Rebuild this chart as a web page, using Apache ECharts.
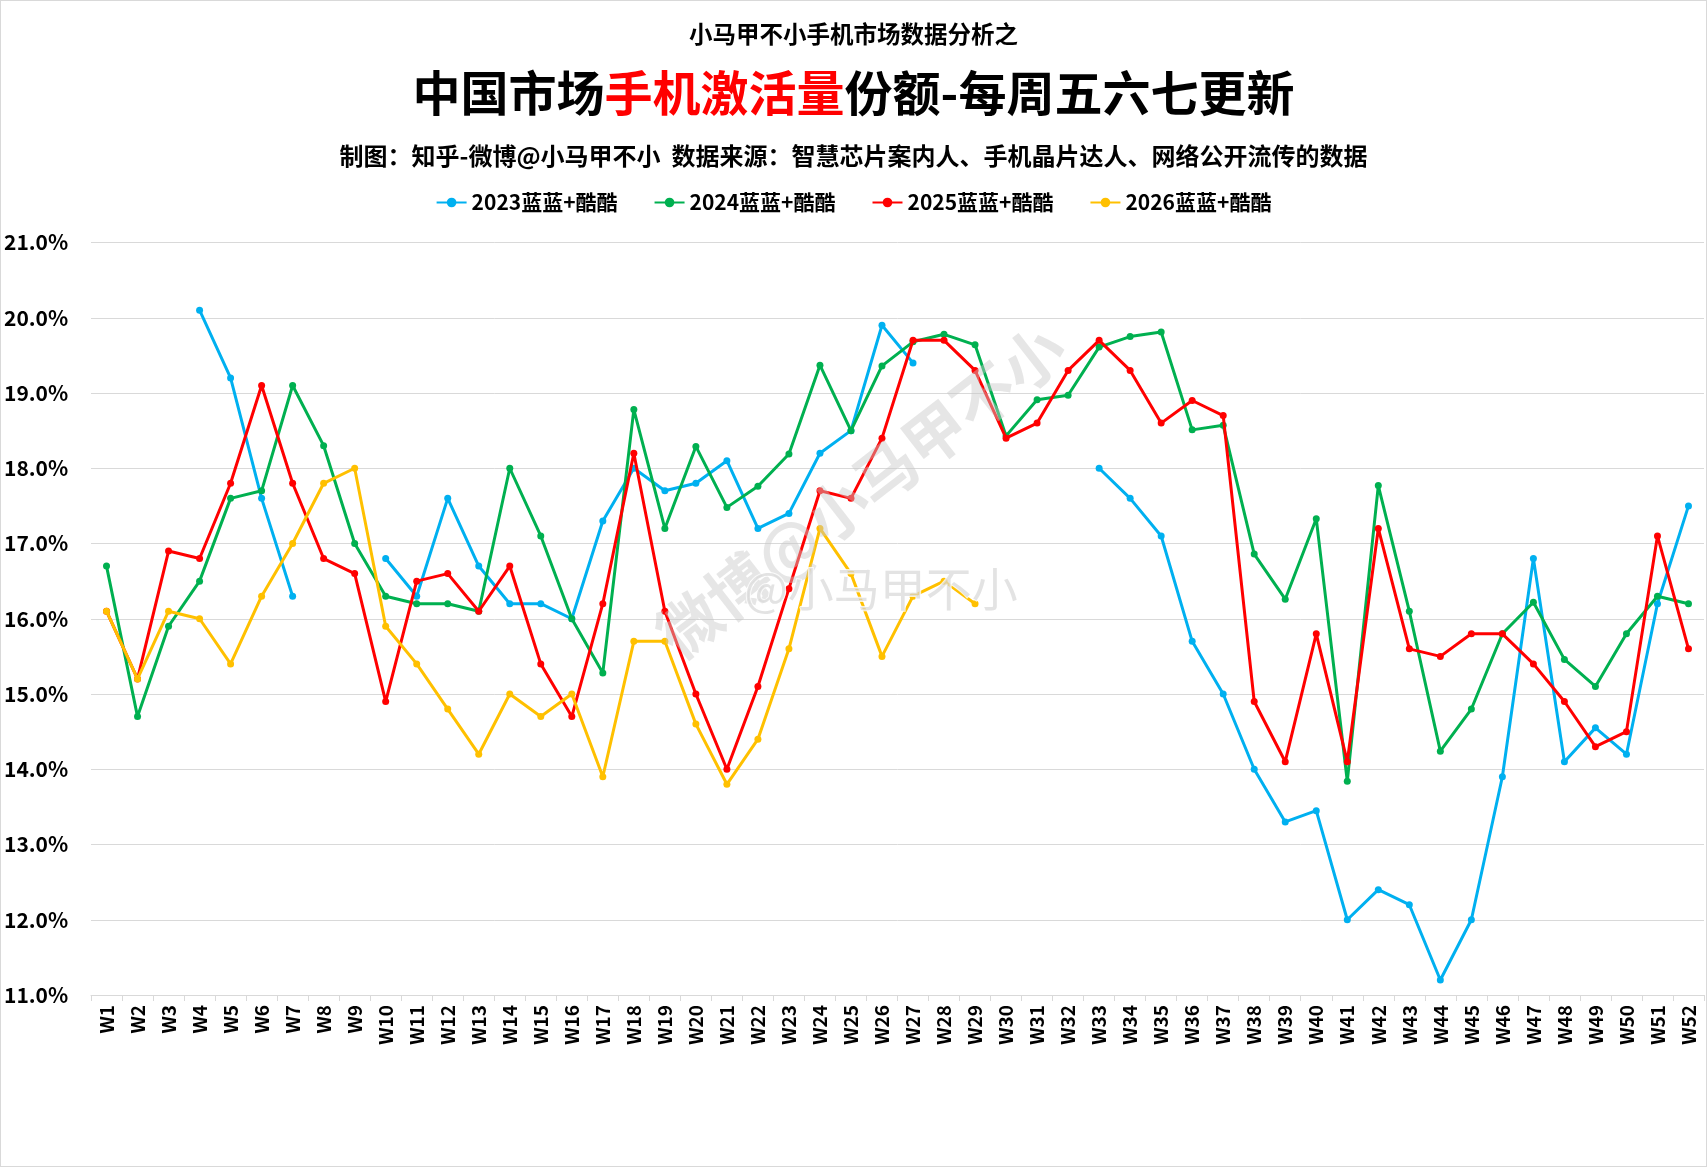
<!DOCTYPE html>
<html>
<head>
<meta charset="utf-8">
<title>中国市场手机激活量份额</title>
<script src="https://cdn.jsdelivr.net/npm/echarts@6/dist/echarts.min.js"></script>
<style>
html, body { margin: 0; padding: 0; background: #fff; }
#echart { width: 1707px; height: 1167px; box-sizing: border-box; border: 1px solid #d9d9d9; }
</style>
</head>
<body>
<div id="echart"></div>
<script>
var weeks = ['W1','W2','W3','W4','W5','W6','W7','W8','W9','W10','W11','W12','W13',
    'W14','W15','W16','W17','W18','W19','W20','W21','W22','W23','W24','W25','W26',
    'W27','W28','W29','W30','W31','W32','W33','W34','W35','W36','W37','W38','W39',
    'W40','W41','W42','W43','W44','W45','W46','W47','W48','W49','W50','W51','W52'];

var yTicks = [11, 21, 1]; // min, max, step

// 2023
var s2023 = [null,null,null,20.1,19.2,17.6,16.3,null,null,16.8,16.3,17.6,16.7,
    16.2,16.2,16.0,17.3,18.0,17.7,17.8,18.1,17.2,17.4,18.2,18.5,19.9,
    19.4,null,null,null,null,null,18.0,17.6,17.1,15.7,15.0,14.0,13.3,
    13.45,12.0,12.4,12.2,11.2,12.0,13.9,16.8,14.1,14.55,14.2,16.2,17.5];
// 2024
var s2024 = [16.7,14.7,15.9,16.5,17.6,17.7,19.1,18.3,17.0,16.3,16.2,16.2,16.1,
    18.0,17.1,16.0,15.28,18.78,17.2,18.29,17.48,17.76,18.19,19.37,18.5,19.36,
    19.68,19.78,19.64,18.43,18.91,18.97,19.61,19.75,19.81,18.51,18.57,16.86,16.26,
    17.33,13.84,17.77,16.1,14.24,14.8,15.8,16.22,15.46,15.1,15.8,16.3,16.2];
// 2025
var s2025 = [16.1,15.2,16.9,16.8,17.8,19.1,17.8,16.8,16.6,14.9,16.5,16.6,16.1,
    16.7,15.4,14.7,16.2,18.2,16.1,15.0,14.0,15.1,16.4,17.7,17.6,18.4,
    19.7,19.7,19.3,18.4,18.6,19.3,19.7,19.3,18.6,18.9,18.7,14.9,14.1,
    15.8,14.1,17.2,15.6,15.5,15.8,15.8,15.4,14.9,14.3,14.5,17.1,15.6];
// 2026
var s2026 = [16.1,15.2,16.1,16.0,15.4,16.3,17.0,17.8,18.0,15.9,15.4,14.8,14.2,
    15.0,14.7,15.0,13.9,15.7,15.7,14.6,13.8,14.4,15.6,17.2,16.6,15.5,
    16.3,16.5,16.2];

var seriesNames = ['2023蓝蓝+酷酷','2024蓝蓝+酷酷','2025蓝蓝+酷酷','2026蓝蓝+酷酷'];
var seriesData = [s2023, s2024, s2025, s2026];
var colors = ['#00B0F0','#00B050','#FF0000','#FFC000'];

var FONT = '"Noto Sans CJK SC", "Noto Sans", sans-serif';

var echart = echarts.init(document.getElementById('echart'));

var series = seriesNames.map(function (name, i) {
    return {
        name: name,
        type: 'line',
        data: seriesData[i],
        symbol: 'circle',
        symbolSize: 7,
        connectNulls: false,
        itemStyle: { color: colors[i] },
        lineStyle: { color: colors[i], width: 3 },
        z: 2 + i
    };
});

var option = {
    animation: false,
    backgroundColor: '#fff',
    color: colors,
    textStyle: { fontFamily: FONT },
    title: [{
        text: '小马甲不小手机市场数据分析之',
        left: 'center', top: 16,
        textStyle: { fontSize: 23.5, fontWeight: 'bold', color: '#000', fontFamily: FONT }
    }, {
        text: '{a|中国市场}{r|手机激活量}{a|份额-每周五六七更新}',
        left: 'center', top: 63,
        textStyle: {
            rich: {
                a: { fontSize: 48, fontWeight: 'bold', color: '#000', fontFamily: FONT },
                r: { fontSize: 48, fontWeight: 'bold', color: '#FF0000', fontFamily: FONT }
            }
        }
    }, {
        text: '制图：知乎-微博@小马甲不小  数据来源：智慧芯片案内人、手机晶片达人、网络公开流传的数据',
        left: 'center', top: 138,
        textStyle: { fontSize: 24, fontWeight: 'bold', color: '#000', fontFamily: FONT }
    }],
    legend: {
        top: 186,
        left: 'center',
        itemWidth: 30,
        itemHeight: 12,
        itemGap: 36,
        textStyle: { fontSize: 21, fontWeight: 'bold', color: '#000', fontFamily: FONT },
        data: seriesNames
    },
    grid: { left: 89, right: 2, top: 241.5, bottom: 171, containLabel: false },
    xAxis: {
        type: 'category',
        data: weeks,
        boundaryGap: true,
        axisLine: { lineStyle: { color: '#d9d9d9', width: 1 } },
        axisTick: { show: true, length: 6, lineStyle: { color: '#d9d9d9' } },
        axisLabel: {
            interval: 0, rotate: 90, margin: 10,
            fontSize: 19, fontWeight: 'bold', color: '#000', fontFamily: FONT
        }
    },
    yAxis: {
        type: 'value',
        min: yTicks[0], max: yTicks[1], interval: yTicks[2],
        axisLine: { show: false },
        axisTick: { show: false },
        splitLine: { lineStyle: { color: '#d9d9d9', width: 1 } },
        axisLabel: {
            align: 'left', margin: 87,
            fontSize: 21, fontWeight: 'bold', color: '#000', fontFamily: FONT,
            formatter: function (v) { return v.toFixed(1) + '%'; }
        }
    },
    graphic: [{
        type: 'text',
        x: 860, y: 490,
        rotation: 0.66,
        z: 100,
        style: {
            text: '微博@小马甲不小',
            fontSize: 62, fontWeight: 'bold', fontFamily: FONT,
            fill: 'rgba(200,200,200,0.45)',
            align: 'center', verticalAlign: 'middle'
        }
    }, {
        type: 'text',
        x: 880, y: 588,
        z: 101,
        style: {
            text: '@小马甲不小',
            fontSize: 46, fontFamily: FONT,
            fill: 'rgba(215,215,215,0.7)',
            stroke: 'rgba(255,255,255,0.8)', lineWidth: 2,
            align: 'center', verticalAlign: 'middle'
        }
    }],
    series: series
};

echart.setOption(option);
</script>
</body>
</html>
